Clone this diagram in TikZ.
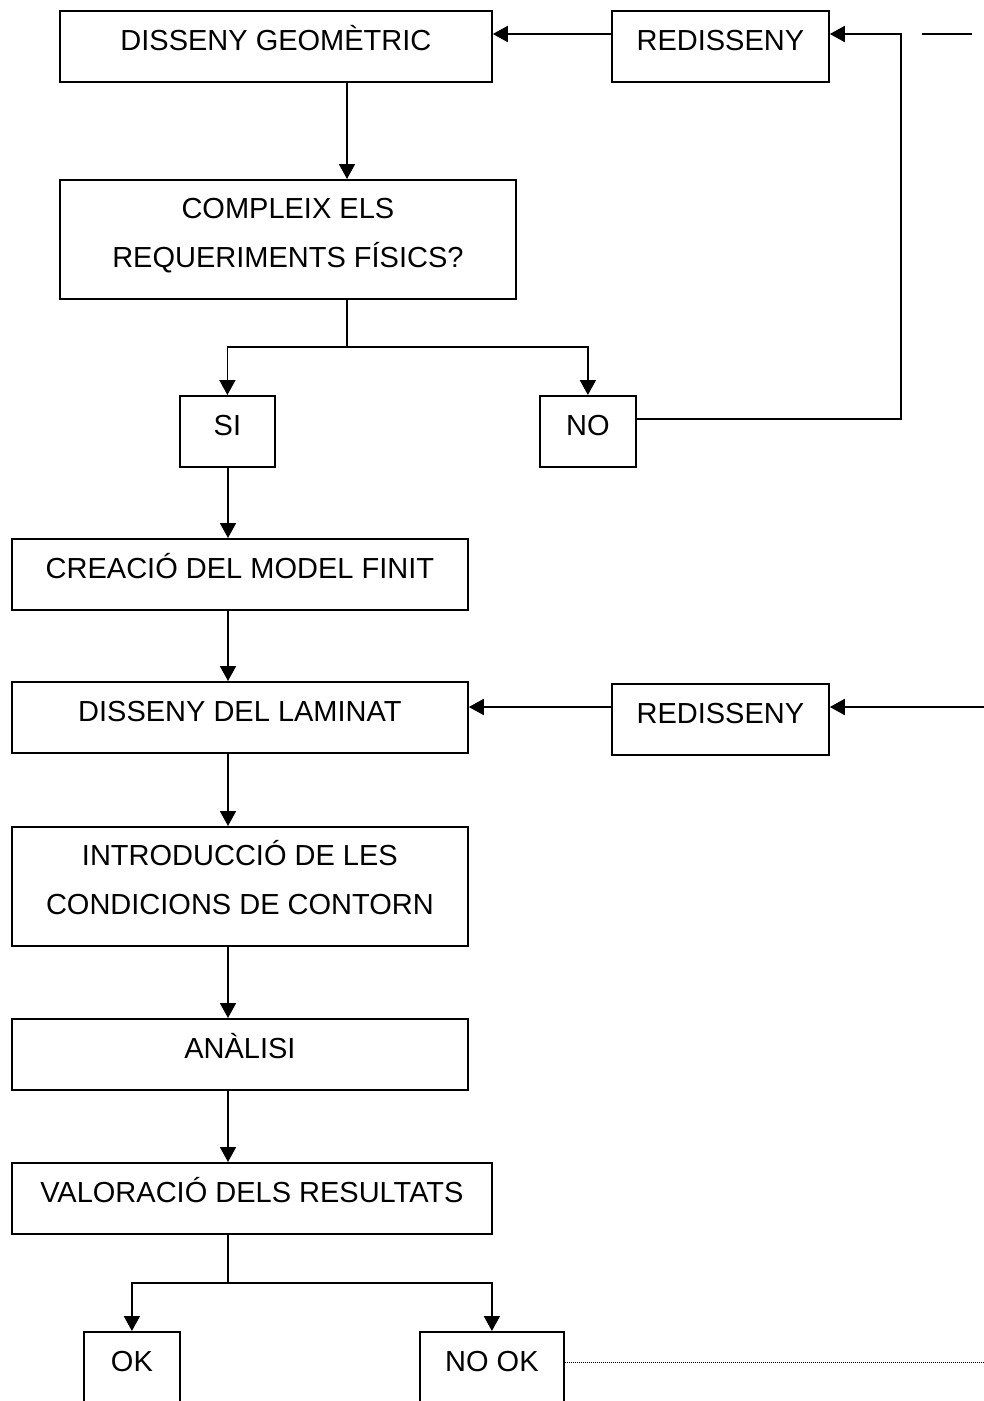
\documentclass[tikz,border=0pt]{standalone}
\usepackage{fontspec}
\setmainfont{Liberation Sans}
\usetikzlibrary{calc,arrows.meta}
\tikzstyle{line} = [draw, line width=1.8pt]
\tikzstyle{arr} = [line, -{Triangle[length=15pt,width=16pt]}]
\tikzstyle{box} = [draw, line width=1.8pt, anchor=north west, inner sep=0pt, minimum height=71pt, text height=40pt, text depth=31pt]
\tikzstyle{tall} = [box, align=center, text height=88pt, text depth=31pt]
\tikzstyle{open} = [box, minimum height=100pt, text depth=60pt]

\begin{document}
\begin{tikzpicture}[x=1pt, y=-1pt, font=\fontsize{29pt}{49pt}\selectfont]
\useasboundingbox (0,0) rectangle (984,1401);

% boxes
\node (geo)  [box, minimum width=432pt] at (59,10)   {DISSENY GEOMÈTRIC};
\node (redA) [box, minimum width=217pt] at (611,10)  {REDISSENY};
\node (req)  [tall, minimum width=456pt] at (59,179) {COMPLEIX ELS\\REQUERIMENTS FÍSICS?};
\node (si)   [box, minimum width=95pt]  at (179,395) {SI};
\node (no)   [box, minimum width=96pt]  at (539,395) {NO};
\node (fin)  [box, minimum width=456pt] at (11,538)  {CREACIÓ DEL MODEL FINIT};
\node (lam)  [box, minimum width=456pt] at (11,681)  {DISSENY DEL LAMINAT};
\node (redB) [box, minimum width=217pt] at (611,683) {REDISSENY};
\node (cont) [tall, minimum width=456pt] at (11,826) {INTRODUCCIÓ DE LES\\CONDICIONS DE CONTORN};
\node (ana)  [box, minimum width=456pt] at (11,1018) {ANÀLISI};
\node (val)  [box, minimum width=480pt] at (11,1162) {VALORACIÓ DELS RESULTATS};
\node (ok)   [open, minimum width=96pt]  at (83,1331)  {OK};
\node (nok)  [open, minimum width=144pt] at (419,1331) {NO OK};

% free ends
\coordinate (spine)  at (228,0);
\coordinate (splitA) at (347,347);
\coordinate (splitB) at (228,1283);
\coordinate (stubA)  at (922,34);
\coordinate (stubB)  at (972,34);
\coordinate (edgeB)  at (984,707);
\coordinate (edgeC)  at (984,1362);

% edges
\draw[arr] ($(redA.north west)+(0,24)$) -- ($(geo.north east)+(0,24)$);
\draw[arr] ($(no.north east)+(0,24)$) -| ($(redA.north east)+(71,24)$) -- ($(redA.north east)+(0,24)$);
\draw[line] (stubA) -- (stubB);
\draw[arr] ($(geo.south west)+(288,0)$) -- ($(req.north west)+(288,0)$);
\draw[line] ($(req.south west)+(288,0)$) -- (splitA);
\draw[arr] (splitA) -| (si.north);
\draw[arr] (splitA) -| (no.north);
\draw[arr] (spine |- si.south) -- (spine |- fin.north);
\draw[arr] (spine |- fin.south) -- (spine |- lam.north);
\draw[arr] ($(redB.north west)+(0,24)$) -- ($(lam.north east)+(0,26)$);
\draw[arr] (edgeB) -- ($(redB.north east)+(0,24)$);
\draw[arr] (spine |- lam.south) -- (spine |- cont.north);
\draw[arr] (spine |- cont.south) -- (spine |- ana.north);
\draw[arr] (spine |- ana.south) -- (spine |- val.north);
\draw[line] (spine |- val.south) -- (splitB);
\draw[arr] (splitB) -| (ok.north);
\draw[arr] (splitB) -| (nok.north);
\draw[line, line width=1pt, densely dotted] ($(nok.north east)+(0,31)$) -- (edgeC);

\end{tikzpicture}
\end{document}
